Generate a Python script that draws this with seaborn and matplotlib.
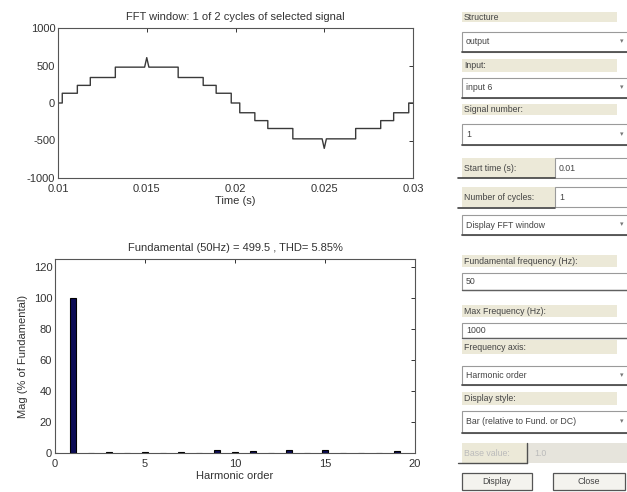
import matplotlib
matplotlib.use("Agg")
import matplotlib.pyplot as plt
from matplotlib.patches import Rectangle
import seaborn as sns
import pandas as pd

sns.set_theme(style="white")
plt.rcParams['font.family'] = ['Liberation Sans', 'DejaVu Sans']
plt.rcParams['axes.unicode_minus'] = False

# ---------------- data ----------------
sig_time = [0.0100, 0.01024, 0.01024, 0.01109, 0.01109, 0.01182, 0.01182, 0.01323, 0.01323,
            0.01488, 0.01500, 0.01512, 0.01677, 0.01677, 0.01818, 0.01818, 0.01891, 0.01891,
            0.01976, 0.01976, 0.02024, 0.02024, 0.02109, 0.02109, 0.02182, 0.02182, 0.02323,
            0.02323, 0.02488, 0.02500, 0.02512, 0.02677, 0.02677, 0.02818, 0.02818, 0.02891,
            0.02891, 0.02976, 0.02976, 0.0300]
sig_value = [0, 0, 130, 130, 235, 235, 340, 340, 478,
             478, 605, 478, 478, 340, 340, 235, 235, 130,
             130, 0, 0, -130, -130, -235, -235, -340, -340,
             -478, -478, -605, -478, -478, -340, -340, -235, -235,
             -130, -130, 0, 0]

harm_order = list(range(0, 20))
harm_mag = [0.0, 100.0, 0.3, 0.9, 0.3, 0.5, 0.3, 0.8, 0.3, 2.0,
            0.4, 1.2, 0.3, 2.0, 0.3, 2.1, 0.3, 0.3, 0.3, 1.3]

top_xticks = [0.01, 0.015, 0.02, 0.025, 0.03]
top_xticklabels = ["0.01", "0.015", "0.02", "0.025", "0.03"]
top_yticks = [-1000, -500, 0, 500, 1000]
bot_xticks = [0, 5, 10, 15, 20]
bot_yticks = [0, 20, 40, 60, 80, 100, 120]

top_title = "FFT window: 1 of 2 cycles of selected signal"
bot_title = "Fundamental (50Hz) = 499.5 , THD= 5.85%"

# ---------------- figure ----------------
W, H = 627, 492
fig = plt.figure(figsize=(W / 100, H / 100), dpi=100)
fig.patch.set_facecolor("white")


def fr(x, y, w, h):
    return [x / W, 1 - (y + h) / H, w / W, h / H]


ax1 = fig.add_axes(fr(58, 28, 355, 150))
ax2 = fig.add_axes(fr(55, 259, 360, 194))

df_sig = pd.DataFrame({"t": sig_time, "v": sig_value})
sns.lineplot(data=df_sig, x="t", y="v", sort=False, estimator=None,
             color="#3a3a3a", lw=1.0, ax=ax1)
ax1.set_xlim(0.01, 0.03)
ax1.set_ylim(-1000, 1000)
ax1.set_xticks(top_xticks)
ax1.set_xticklabels(top_xticklabels)
ax1.set_yticks(top_yticks)
ax1.set_xlabel("Time (s)", fontsize=8, color="#333333", labelpad=2)
ax1.set_ylabel("")
ax1.set_title(top_title, fontsize=8, color="#333333", pad=6)

df_h = pd.DataFrame({"order": harm_order, "mag": harm_mag})
sns.barplot(data=df_h, x="order", y="mag", native_scale=True, width=0.35,
            color="#0b0b55", saturation=1, edgecolor="black", linewidth=0.8,
            errorbar=None, ax=ax2)
ax2.set_xlim(0, 20)
ax2.set_ylim(0, 125)
ax2.set_xticks(bot_xticks)
ax2.set_yticks(bot_yticks)
ax2.set_xlabel("Harmonic order", fontsize=8, color="#333333", labelpad=2)
ax2.set_ylabel("Mag (% of Fundamental)", fontsize=8, color="#333333", labelpad=4)
ax2.set_title(bot_title, fontsize=8, color="#333333", pad=6)

for ax in (ax1, ax2):
    ax.tick_params(direction="in", top=True, right=True, length=3, width=0.7,
                   labelsize=8, colors="#333333")
    ax.tick_params(axis="x", pad=4)
    ax.tick_params(axis="y", pad=2)
    for s in ax.spines.values():
        s.set_color("#555555")
        s.set_linewidth(0.8)
    ax.set_facecolor("white")

# ---------------- GUI panel (decoration) ----------------
LABEL_BG = "#ece9d8"
TXT = "#444444"


def rect(x, y, w, h, fc, ec="none", lw=0.8):
    fig.patches.append(Rectangle((x / W, 1 - (y + h) / H), w / W, h / H,
                                 transform=fig.transFigure, facecolor=fc,
                                 edgecolor=ec, linewidth=lw))


def hline(x0, x1, y, color="#404040", lw=1.2):
    fig.add_artist(plt.Line2D([x0 / W, x1 / W], [1 - y / H, 1 - y / H],
                              transform=fig.transFigure, color=color, lw=lw))


def vline(x, y0, y1, color="#404040", lw=1.2):
    fig.add_artist(plt.Line2D([x / W, x / W], [1 - y0 / H, 1 - y1 / H],
                              transform=fig.transFigure, color=color, lw=lw))


def txt(x, y, s, color=TXT, size=6.3, ha="left"):
    fig.text(x / W, 1 - y / H, s, fontsize=size, color=color, ha=ha, va="center")


def label(y, h, s, x=462, w=155):
    rect(x, y, w, h, LABEL_BG)
    txt(x + 2, y + h / 2, s)


def dropdown(y, h, s):
    rect(462, y, 170, h, "white", ec="#9a9a9a", lw=0.8)
    hline(462, 627, y + h, color="#505050", lw=1.3)
    txt(466, y + h / 2, s)
    txt(622, y + h / 2, "▾", color="#777777", size=5, ha="center")


def editbox(x, y, w, h, s):
    rect(x, y, w, h, "white", ec="#9a9a9a", lw=0.8)
    txt(x + 4, y + h / 2, s)


label(12, 10, "Structure")
dropdown(32, 20, "output")
label(59, 13, "Input:")
dropdown(78, 20, "input 6")
label(104, 11, "Signal number:")
dropdown(124, 21, "1")

label(158, 20, "Start time (s):", w=93)
hline(458, 555, 178)
editbox(555, 158, 75, 20, "0.01")

label(187, 20, "Number of cycles:", w=93)
hline(458, 555, 208)
editbox(555, 187, 75, 20, "1")

dropdown(215, 20, "Display FFT window")

label(255, 12, "Fundamental frequency (Hz):")
editbox(462, 273, 170, 17, "50")
hline(462, 627, 290, color="#606060", lw=1.0)
label(305, 12, "Max Frequency (Hz):")
editbox(462, 323, 170, 15, "1000")
hline(462, 627, 338, color="#606060", lw=1.0)
label(340, 14, "Frequency axis:")
dropdown(366, 19, "Harmonic order")
label(392, 13, "Display style:")
dropdown(411, 22, "Bar (relative to Fund. or DC)")

# disabled base value
rect(462, 443, 65, 20, LABEL_BG)
txt(464, 453, "Base value:", color="#bbbbbb")
vline(527, 443, 463, color="#505050", lw=1.0)
hline(458, 527, 463, color="#505050", lw=1.0)
rect(528, 443, 100, 20, "#e6e4dc")
txt(534, 453, "1.0", color="#bbbbbb")

# buttons
rect(462, 473, 70, 17, "#f4f3ee", ec="#555555", lw=0.9)
txt(497, 481.5, "Display", ha="center")
rect(553, 473, 72, 17, "#f4f3ee", ec="#555555", lw=0.9)
txt(589, 481.5, "Close", ha="center")

fig.savefig("out.png", dpi=100, facecolor="white")
